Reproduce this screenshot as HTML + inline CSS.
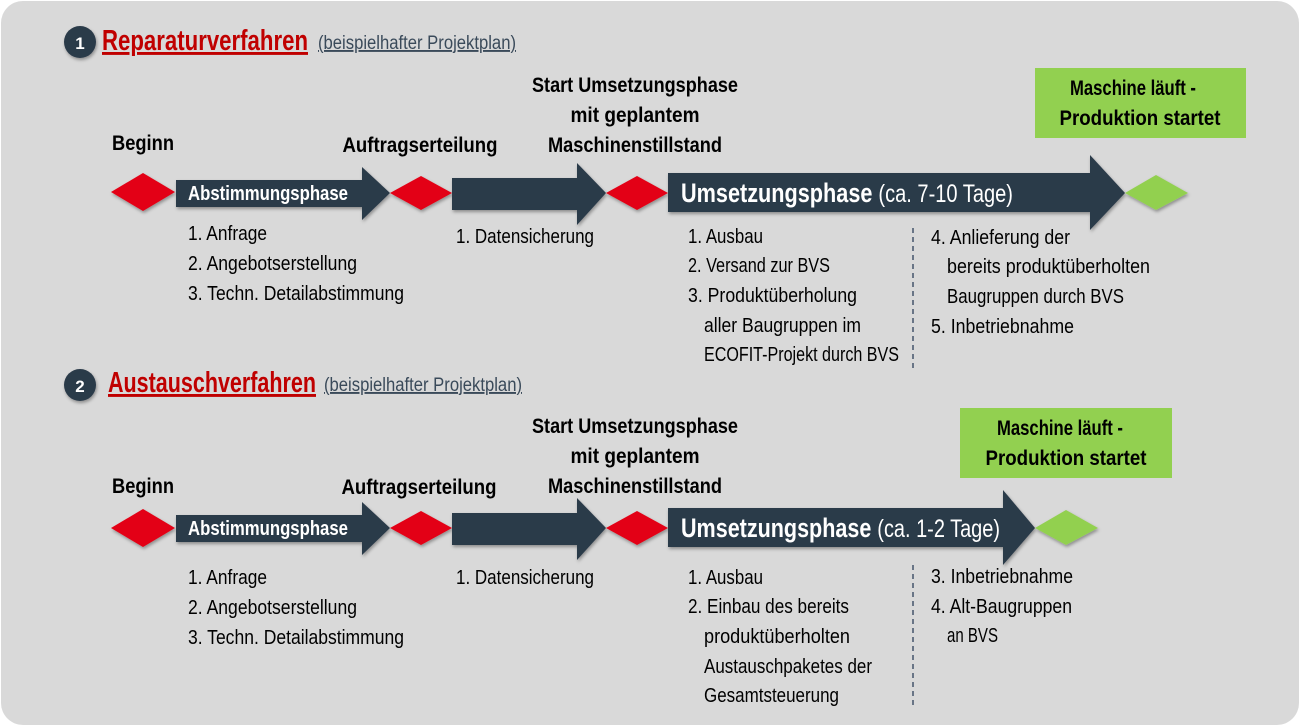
<!DOCTYPE html>
<html><head><meta charset="utf-8"><style>
html,body{margin:0;padding:0;background:#fff}
svg{display:block}
text{font-family:"Liberation Sans Narrow","Liberation Sans",sans-serif}
.b{font-weight:bold;font-size:21px;fill:#000}
.l{font-size:20px;fill:#000}
</style></head><body>
<svg width="1300" height="726" viewBox="0 0 1300 726">
<defs><filter id="s" x="-10%" y="-10%" width="130%" height="140%"><feDropShadow dx="1" dy="2" stdDeviation="1.5" flood-color="#000" flood-opacity="0.35"/></filter></defs>
<rect x="1" y="1" width="1298" height="724" rx="22" fill="#d9d9d9"/>

<g id="sec1">
<circle cx="80" cy="42" r="16" fill="#2c3a4a" filter="url(#s)"/>
<text x="80" y="49" text-anchor="middle" font-weight="bold" font-size="17" fill="#fff">1</text>
<text x="102" y="50" font-weight="bold" font-size="29" fill="#c00000" text-decoration="underline" textLength="206" lengthAdjust="spacingAndGlyphs">Reparaturverfahren</text>
<text x="318" y="49" font-size="19" fill="#3a4a5a" text-decoration="underline" textLength="198" lengthAdjust="spacingAndGlyphs">(beispielhafter Projektplan)</text>

<text x="112" y="150" class="b" textLength="62" lengthAdjust="spacingAndGlyphs">Beginn</text>
<text x="420" y="152" class="b" text-anchor="middle" textLength="155" lengthAdjust="spacingAndGlyphs">Auftragserteilung</text>
<text x="635" y="92" class="b" text-anchor="middle" textLength="206" lengthAdjust="spacingAndGlyphs">Start Umsetzungsphase</text>
<text x="635" y="122" class="b" text-anchor="middle" textLength="129" lengthAdjust="spacingAndGlyphs">mit geplantem</text>
<text x="635" y="152" class="b" text-anchor="middle" textLength="174" lengthAdjust="spacingAndGlyphs">Maschinenstillstand</text>

<rect x="1035" y="68" width="211" height="70" fill="#92d050"/>
<text x="1133" y="95" class="b" text-anchor="middle" textLength="126" lengthAdjust="spacingAndGlyphs">Maschine läuft -</text>
<text x="1140" y="125" class="b" text-anchor="middle" textLength="161" lengthAdjust="spacingAndGlyphs">Produktion startet</text>

<g filter="url(#s)">
<polygon points="111,192 143,173 175,192 143,211" fill="#e30613"/>
<polygon points="176,180 362,180 362,167 390,193 362,220 362,207 176,207" fill="#2c3a4a"/>
<polygon points="390,193 421,176 452,193 421,210" fill="#e30613"/>
<polygon points="452,178 577,178 577,163 606,193 577,225 577,210 452,210" fill="#2c3a4a"/>
<polygon points="606,193 637,176 668,193 637,210" fill="#e30613"/>
<polygon points="668,173 1090,173 1090,155 1125,193 1090,230 1090,212 668,212" fill="#2c3a4a"/>
<polygon points="1125,193 1156,175 1188,193 1156,210" fill="#92d050"/>
</g>
<text x="188" y="200" font-weight="bold" font-size="20" fill="#fff" textLength="160" lengthAdjust="spacingAndGlyphs">Abstimmungsphase</text>
<text x="681" y="202" font-weight="bold" font-size="27" fill="#fff" textLength="332" lengthAdjust="spacingAndGlyphs">Umsetzungsphase <tspan font-weight="normal" font-size="25">(ca. 7-10 Tage)</tspan></text>

<text x="188" y="240" class="l" textLength="79" lengthAdjust="spacingAndGlyphs">1. Anfrage</text>
<text x="188" y="270" class="l" textLength="169" lengthAdjust="spacingAndGlyphs">2. Angebotserstellung</text>
<text x="188" y="300" class="l" textLength="216" lengthAdjust="spacingAndGlyphs">3. Techn. Detailabstimmung</text>
<text x="456" y="243" class="l" textLength="138" lengthAdjust="spacingAndGlyphs">1. Datensicherung</text>
<text x="688" y="243" class="l" textLength="75" lengthAdjust="spacingAndGlyphs">1. Ausbau</text>
<text x="688" y="272" class="l" textLength="142" lengthAdjust="spacingAndGlyphs">2. Versand zur BVS</text>
<text x="688" y="302" class="l" textLength="169" lengthAdjust="spacingAndGlyphs">3. Produktüberholung</text>
<text x="704" y="332" class="l" textLength="157" lengthAdjust="spacingAndGlyphs">aller Baugruppen im</text>
<text x="704" y="361" class="l" textLength="195" lengthAdjust="spacingAndGlyphs">ECOFIT-Projekt durch BVS</text>
<line x1="913" y1="228" x2="913" y2="370" stroke="#44546a" stroke-width="1.5" stroke-dasharray="5,4"/>
<text x="931" y="244" class="l" textLength="139" lengthAdjust="spacingAndGlyphs">4. Anlieferung der</text>
<text x="947" y="273" class="l" textLength="203" lengthAdjust="spacingAndGlyphs">bereits produktüberholten</text>
<text x="947" y="303" class="l" textLength="177" lengthAdjust="spacingAndGlyphs">Baugruppen durch BVS</text>
<text x="931" y="333" class="l" textLength="143" lengthAdjust="spacingAndGlyphs">5. Inbetriebnahme</text>
</g>

<g id="sec2">
<circle cx="80" cy="385" r="16" fill="#2c3a4a" filter="url(#s)"/>
<text x="80" y="392" text-anchor="middle" font-weight="bold" font-size="17" fill="#fff">2</text>
<text x="108" y="392" font-weight="bold" font-size="29" fill="#c00000" text-decoration="underline" textLength="208" lengthAdjust="spacingAndGlyphs">Austauschverfahren</text>
<text x="324" y="391" font-size="19" fill="#3a4a5a" text-decoration="underline" textLength="198" lengthAdjust="spacingAndGlyphs">(beispielhafter Projektplan)</text>

<text x="112" y="493" class="b" textLength="62" lengthAdjust="spacingAndGlyphs">Beginn</text>
<text x="419" y="494" class="b" text-anchor="middle" textLength="155" lengthAdjust="spacingAndGlyphs">Auftragserteilung</text>
<text x="635" y="433" class="b" text-anchor="middle" textLength="206" lengthAdjust="spacingAndGlyphs">Start Umsetzungsphase</text>
<text x="635" y="463" class="b" text-anchor="middle" textLength="129" lengthAdjust="spacingAndGlyphs">mit geplantem</text>
<text x="635" y="493" class="b" text-anchor="middle" textLength="174" lengthAdjust="spacingAndGlyphs">Maschinenstillstand</text>

<rect x="960" y="408" width="212" height="70" fill="#92d050"/>
<text x="1060" y="435" class="b" text-anchor="middle" textLength="126" lengthAdjust="spacingAndGlyphs">Maschine läuft -</text>
<text x="1066" y="465" class="b" text-anchor="middle" textLength="161" lengthAdjust="spacingAndGlyphs">Produktion startet</text>

<g filter="url(#s)">
<polygon points="111,528 143,509 175,528 143,547" fill="#e30613"/>
<polygon points="176,515 362,515 362,502 390,528 362,555 362,542 176,542" fill="#2c3a4a"/>
<polygon points="390,528 421,511 452,528 421,545" fill="#e30613"/>
<polygon points="452,513 577,513 577,498 606,528 577,560 577,545 452,545" fill="#2c3a4a"/>
<polygon points="606,528 637,511 668,528 637,545" fill="#e30613"/>
<polygon points="668,508 1003,508 1003,490 1035,528 1003,565 1003,547 668,547" fill="#2c3a4a"/>
<polygon points="1035,528 1066,510 1098,528 1066,545" fill="#92d050"/>
</g>
<text x="188" y="535" font-weight="bold" font-size="20" fill="#fff" textLength="160" lengthAdjust="spacingAndGlyphs">Abstimmungsphase</text>
<text x="681" y="537" font-weight="bold" font-size="27" fill="#fff" textLength="319" lengthAdjust="spacingAndGlyphs">Umsetzungsphase <tspan font-weight="normal" font-size="25">(ca. 1-2 Tage)</tspan></text>

<text x="188" y="584" class="l" textLength="79" lengthAdjust="spacingAndGlyphs">1. Anfrage</text>
<text x="188" y="614" class="l" textLength="169" lengthAdjust="spacingAndGlyphs">2. Angebotserstellung</text>
<text x="188" y="644" class="l" textLength="216" lengthAdjust="spacingAndGlyphs">3. Techn. Detailabstimmung</text>
<text x="456" y="584" class="l" textLength="138" lengthAdjust="spacingAndGlyphs">1. Datensicherung</text>
<text x="688" y="584" class="l" textLength="75" lengthAdjust="spacingAndGlyphs">1. Ausbau</text>
<text x="688" y="613" class="l" textLength="161" lengthAdjust="spacingAndGlyphs">2. Einbau des bereits</text>
<text x="704" y="643" class="l" textLength="146" lengthAdjust="spacingAndGlyphs">produktüberholten</text>
<text x="704" y="673" class="l" textLength="168" lengthAdjust="spacingAndGlyphs">Austauschpaketes der</text>
<text x="704" y="702" class="l" textLength="135" lengthAdjust="spacingAndGlyphs">Gesamtsteuerung</text>
<line x1="913" y1="565" x2="913" y2="705" stroke="#44546a" stroke-width="1.5" stroke-dasharray="5,4"/>
<text x="931" y="583" class="l" textLength="142" lengthAdjust="spacingAndGlyphs">3. Inbetriebnahme</text>
<text x="931" y="613" class="l" textLength="141" lengthAdjust="spacingAndGlyphs">4. Alt-Baugruppen</text>
<text x="947" y="642" class="l" textLength="51" lengthAdjust="spacingAndGlyphs">an BVS</text>
</g>
</svg>
</body></html>
